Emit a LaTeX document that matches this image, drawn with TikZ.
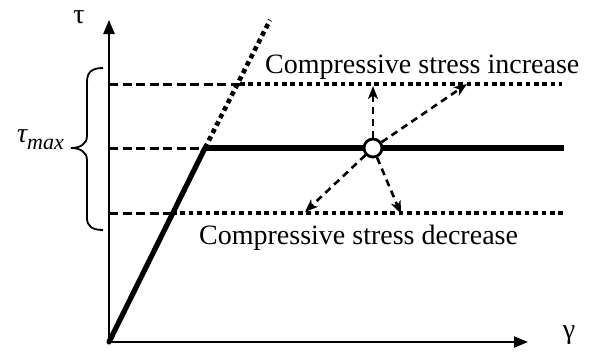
\documentclass[tikz,border=0pt]{standalone}
\usepackage{fontspec}
\setmainfont{Liberation Serif}
\usetikzlibrary{arrows.meta}
\begin{document}
\begin{tikzpicture}[x=1pt,y=-1pt,
  axis/.style={line width=2.3pt,-{Triangle[length=14pt,width=11pt]}},
  dashln/.style={line width=3pt,dash pattern=on 9pt off 4.5pt},
  dotln/.style={line width=4.6pt,dash pattern=on 4.6pt off 3.8pt},
  thickln/.style={line width=5.2pt},
  darr/.style={line width=2.6pt,dash pattern=on 7pt off 5pt,-{Stealth[length=13pt,width=10pt,inset=3.5pt]}},
  lbl/.style={inner sep=0pt,font=\fontsize{28}{32}\selectfont}]
\useasboundingbox (0,0) rectangle (589,354);
% key points
\coordinate (O) at (109,342);
\coordinate (ytip) at (109,20);
\coordinate (xtip) at (528,342);
\coordinate (uL) at (109,84);
\coordinate (uX) at (240,84);
\coordinate (uR) at (562,84);
\coordinate (mL) at (109,148);
\coordinate (Y) at (205,148);
\coordinate (mR) at (564,148);
\coordinate (lL) at (109,213);
\coordinate (lX) at (172,213);
\coordinate (lR) at (564,213);
\coordinate (D) at (270,20);
\coordinate (a1) at (373,86);
\coordinate (a2) at (467,84);
\coordinate (a3) at (305,212);
\coordinate (a4) at (401,214);
% axes
\draw[axis] (O) -- (ytip);
\draw[axis] (O) -- (xtip);
\node[lbl] (tau) at (79,17) {τ};
\node[lbl] (gam) at (569,335) {γ};
% horizontal levels
\draw[dashln] (uL) -- (uX);
\draw[dotln] (uX) -- (uR);
\draw[dashln] (mL) -- (Y);
\draw[thickln] (Y) -- (mR);
\draw[dashln] (lL) -- (lX);
\draw[dotln] (lX) -- (lR);
% elastic line
\draw[thickln,line cap=round] (O) -- (Y);
\draw[dotln] (Y) -- (D);
% point and arrows
\node[circle,draw,line width=2.8pt,fill=white,minimum size=18pt,inner sep=0pt] (c) at (373,148) {};
\draw[darr] (c) -- (a1);
\draw[darr] (c) -- (a2);
\draw[darr] (c) -- (a3);
\draw[darr] (c) -- (a4);
% labels
\node[lbl,anchor=base west] (inc) at (265,73) {Compressive stress increase};
\node[lbl,anchor=base west] (dec) at (199,244) {Compressive stress decrease};
% brace
\draw[line width=1.8pt] (103,68) .. controls (92,68) and (87,72) .. (87,82)
  -- (87,136) .. controls (87,144) and (80,148) .. (71,148)
  .. controls (80,148) and (87,152) .. (87,160)
  -- (87,218) .. controls (87,226) and (92,230) .. (103,230);
\node[lbl,anchor=east] (tmax) at (64,140) {\itshape τ\raisebox{-0.25em}{\fontsize{22}{26}\selectfont max}};
\end{tikzpicture}
\end{document}
